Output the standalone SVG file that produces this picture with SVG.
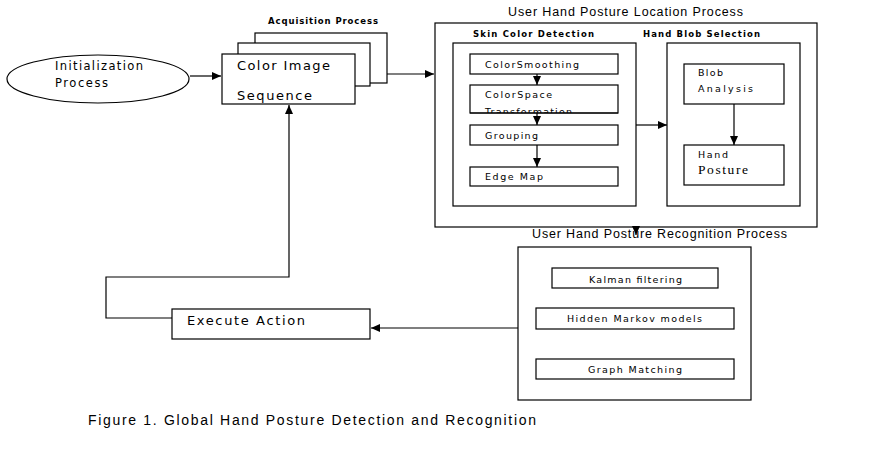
<svg xmlns="http://www.w3.org/2000/svg" width="871" height="461" viewBox="0 0 871 461">
<style>
  .b{fill:#fff;stroke:#000;stroke-width:1.2}
  .n{fill:none;stroke:#000;stroke-width:1.2}
  text{font-family:"Liberation Sans",Arial,sans-serif;fill:#000}
  .w{font-family:"DejaVu Sans",Verdana,sans-serif}
  .h{font-size:8.5px;font-weight:bold}
  .s9{font-size:9.5px}
  .s11{font-size:11.5px}
  .s12{font-size:12.5px}
  .m{font-size:13px}
</style>
<defs>
  <marker id="ah" markerUnits="userSpaceOnUse" markerWidth="10" markerHeight="10" refX="9" refY="4" orient="auto">
    <path d="M0,0 L9,4 L0,8 Z" fill="#000"/>
  </marker>
  <clipPath id="clipCST"><rect x="470" y="85" width="148" height="28"/></clipPath>
</defs>
<rect width="871" height="461" fill="#fff"/>

<g id="init">
  <ellipse class="b" cx="98" cy="79" rx="91" ry="24"/>
  <text class="w s11" x="55" y="70" textLength="88" lengthAdjust="spacing">Initialization</text>
  <text class="w s11" x="55" y="87" textLength="53" lengthAdjust="spacing">Process</text>
</g>

<g id="acquisition">
  <text class="w h" x="268" y="24" textLength="110" lengthAdjust="spacing">Acquisition Process</text>
  <rect class="b" x="255" y="33" width="132" height="50"/>
  <rect class="b" x="238" y="43" width="132" height="43"/>
  <rect class="b" x="222" y="54" width="133" height="50"/>
  <text class="w m" x="237" y="70" textLength="93" lengthAdjust="spacing">Color Image</text>
  <text class="w m" x="237" y="100" textLength="75" lengthAdjust="spacing">Sequence</text>
</g>

<g id="location">
  <text class="s12" x="508" y="16" textLength="235" lengthAdjust="spacing">User Hand Posture Location Process</text>
  <rect class="b" x="435" y="23" width="382" height="204"/>
</g>

<g id="skin">
  <text class="w h" x="473" y="37" textLength="121" lengthAdjust="spacing">Skin Color Detection</text>
  <rect class="b" x="453" y="43" width="183" height="163"/>
</g>

<g id="smoothing">
  <rect class="b" x="470" y="54" width="148" height="20"/>
  <text class="w s9" x="485" y="68" textLength="94" lengthAdjust="spacing">ColorSmoothing</text>
</g>

<g id="cst">
  <rect class="b" x="470" y="85" width="148" height="28"/>
  <text class="w s9" x="485" y="98" textLength="67" lengthAdjust="spacing">ColorSpace</text>
  <g clip-path="url(#clipCST)">
    <text class="w s9" x="485" y="115" textLength="87" lengthAdjust="spacing">Transformation</text>
  </g>
  <line class="n" x1="470" y1="113" x2="618" y2="113"/>
</g>

<g id="grouping">
  <rect class="b" x="470" y="125" width="148" height="20"/>
  <text class="w s9" x="485" y="139" textLength="53" lengthAdjust="spacing">Grouping</text>
</g>

<g id="edgemap">
  <rect class="b" x="470" y="167" width="148" height="19"/>
  <text class="w s9" x="485" y="180" textLength="58" lengthAdjust="spacing">Edge Map</text>
</g>

<g id="blobsel">
  <text class="w h" x="643" y="37" textLength="117" lengthAdjust="spacing">Hand Blob Selection</text>
  <rect class="b" x="667" y="43" width="133" height="163"/>
</g>

<g id="blob">
  <rect class="b" x="684" y="64" width="100" height="40"/>
  <text class="w s9" x="698" y="76" textLength="25" lengthAdjust="spacing">Blob</text>
  <text class="w s9" x="698" y="92" textLength="55" lengthAdjust="spacing">Analysis</text>
</g>

<g id="posture">
  <rect class="b" x="684" y="145" width="100" height="40"/>
  <text class="w s9" x="698" y="158" textLength="30" lengthAdjust="spacing">Hand</text>
  <text x="698" y="174" style="font-family:'Liberation Serif',serif;font-size:13.5px" textLength="50" lengthAdjust="spacing">Posture</text>
</g>

<g id="recognition">
  <rect class="b" x="518" y="247" width="233" height="153"/>
  <text class="s12" x="532" y="238" textLength="255" lengthAdjust="spacing">User Hand Posture Recognition Process</text>
</g>

<g id="kalman">
  <rect class="b" x="552" y="268" width="166" height="20"/>
  <text class="w s9" x="589" y="283" textLength="93" lengthAdjust="spacing">Kalman filtering</text>
</g>

<g id="hmm">
  <rect class="b" x="536" y="308" width="198" height="21"/>
  <text class="w s9" x="567" y="322" textLength="135" lengthAdjust="spacing">Hidden Markov models</text>
</g>

<g id="graph">
  <rect class="b" x="536" y="359" width="198" height="20"/>
  <text class="w s9" x="588" y="373" textLength="94" lengthAdjust="spacing">Graph Matching</text>
</g>

<g id="execute">
  <rect class="b" x="172" y="309" width="198" height="30"/>
  <text class="w m" x="187" y="325" textLength="118" lengthAdjust="spacing">Execute Action</text>
</g>

<g id="connectors">
  <line class="n" x1="190" y1="76" x2="221" y2="76" marker-end="url(#ah)"/>
  <line class="n" x1="387" y1="74" x2="434" y2="74" marker-end="url(#ah)"/>
  <line class="n" x1="537" y1="74" x2="537" y2="85" marker-end="url(#ah)"/>
  <line class="n" x1="537" y1="113" x2="537" y2="125" marker-end="url(#ah)"/>
  <line class="n" x1="537" y1="145" x2="537" y2="167" marker-end="url(#ah)"/>
  <line class="n" x1="636" y1="125" x2="667" y2="125" marker-end="url(#ah)"/>
  <line class="n" x1="734" y1="104" x2="734" y2="145" marker-end="url(#ah)"/>
  <line class="n" x1="636" y1="227" x2="636" y2="235" marker-end="url(#ah)"/>
  <line class="n" x1="518" y1="328" x2="371" y2="328" marker-end="url(#ah)"/>
  <polyline class="n" points="172,318 106,318 106,277 289,277 289,105" marker-end="url(#ah)"/>
</g>

<text x="88" y="425" style="font-size:14px" textLength="448" lengthAdjust="spacing">Figure 1. Global Hand Posture Detection and Recognition</text>
</svg>
